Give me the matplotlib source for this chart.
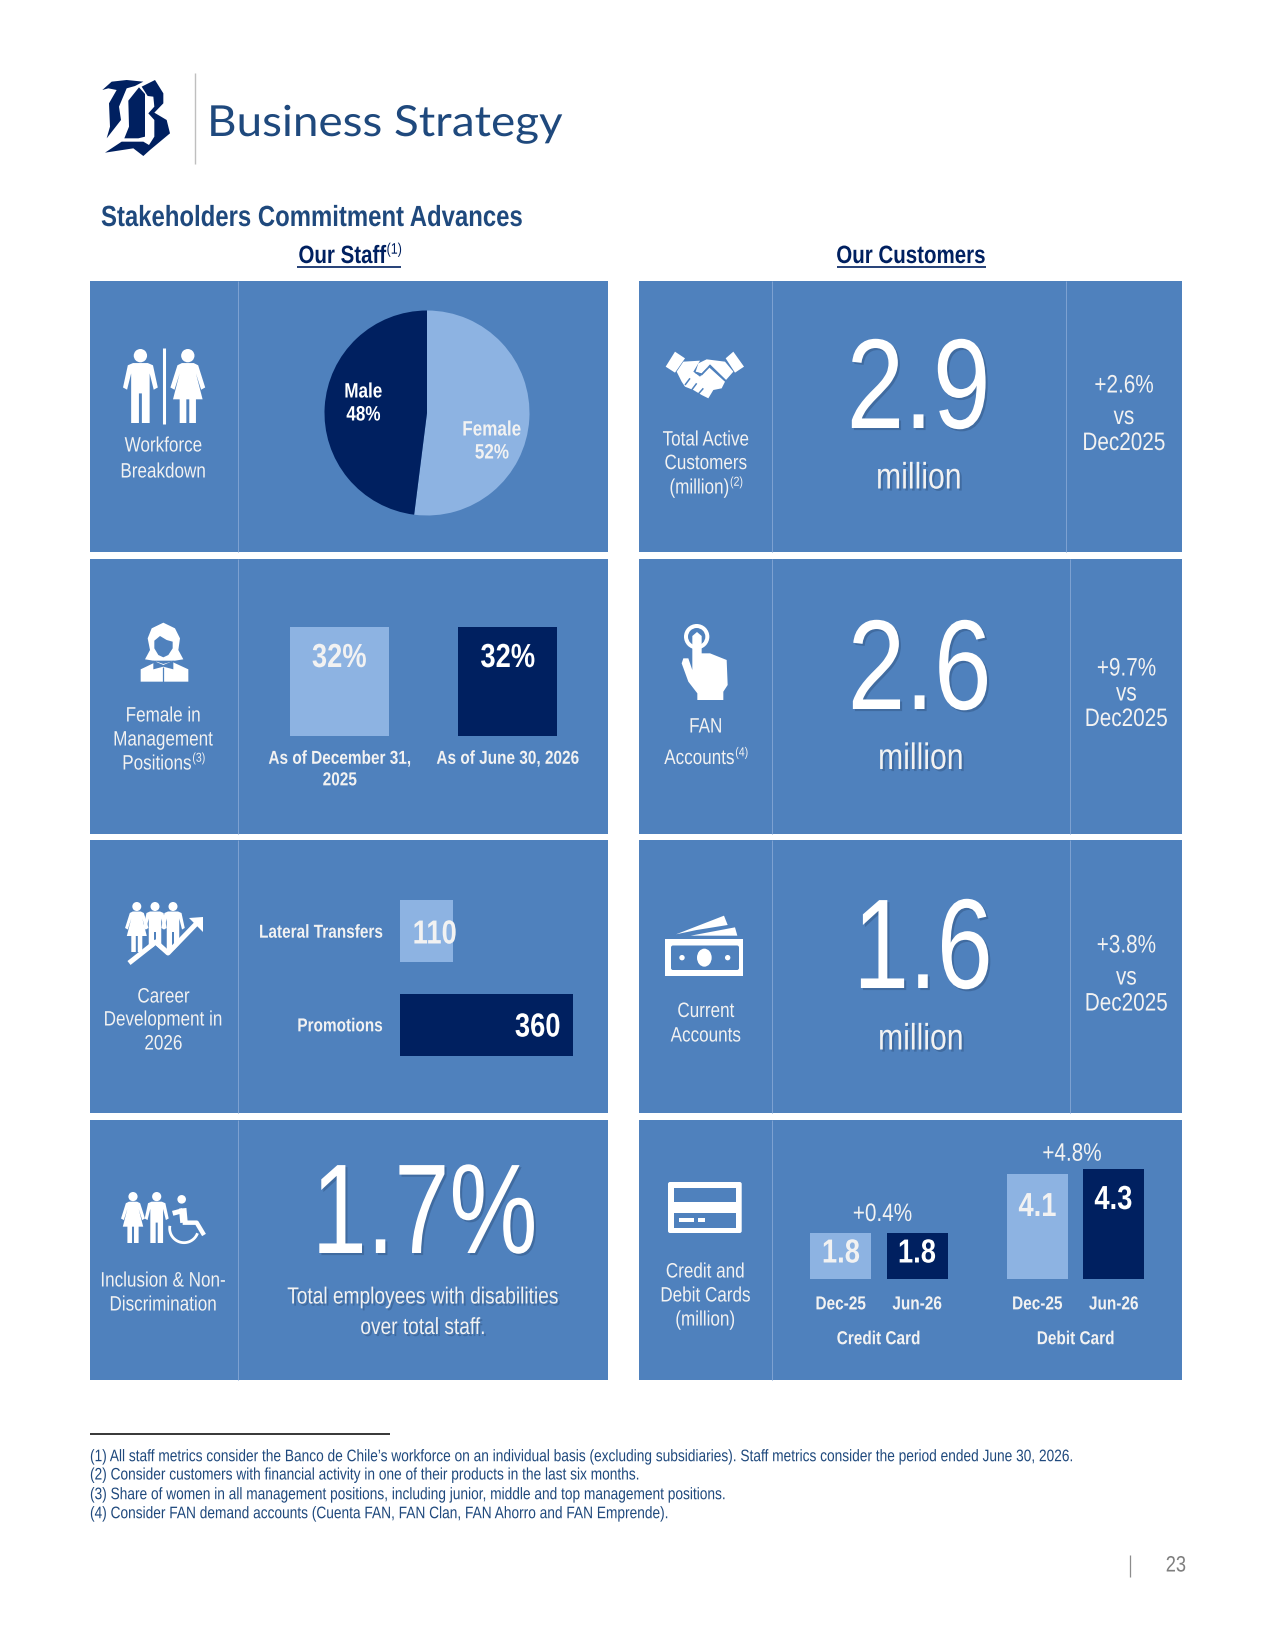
import numpy as np
import matplotlib
matplotlib.use('Agg')
import matplotlib.pyplot as plt
import matplotlib.patches as patches
import matplotlib.patheffects as pe
from matplotlib.transforms import Affine2D, Bbox

W, H = 1275, 1650

PANEL = '#4F81BD'
LIGHT = '#8DB3E2'
NAVY = '#002060'
EDGE = '#7FA3D2'
TITLE = '#1F497D'
SOFT = '#F2F2F2'
SANS = 'Liberation Sans'
NARROW_K = 0.82

# data read from the page
gender_labels = ['Female', 'Male']
gender_share = [52, 48]
mgmt_labels = ['As of December 31,\n2025', 'As of June 30, 2026']
mgmt_share = [32, 32]
career_labels = ['Lateral Transfers', 'Promotions']
career_counts = [110, 360]
card_periods = ['Dec-25', 'Jun-26', 'Dec-25', 'Jun-26']
card_values = [1.8, 1.8, 4.1, 4.3]
card_growth = ['+0.4%', '+4.8%']
card_groups = ['Credit Card', 'Debit Card']
customer_values = ['2.9', '2.6', '1.6']
customer_growth = ['+2.6%', '+9.7%', '+3.8%']
disability_share = '1.7%'
footnotes = [
    '(1) All staff metrics consider the Banco de Chile\u2019s workforce on an individual basis (excluding subsidiaries). Staff metrics consider the period ended June 30, 2026.',
    '(2) Consider customers with financial activity in one of their products in the last six months.',
    '(3) Share of women in all management positions, including junior, middle and top management positions.',
    '(4) Consider FAN demand accounts (Cuenta FAN, FAN Clan, FAN Ahorro and FAN Emprende).',
]

fig = plt.figure(figsize=(W / 100, H / 100), dpi=100, facecolor='white')


class Squeeze(pe.AbstractPathEffect):
    # no narrow font is installed, so the real text gets squeezed when it is drawn
    def __init__(self, k=NARROW_K, anchor='center', shadow=False):
        super().__init__()
        self.k = k
        self.anchor = anchor
        self.shadow = pe.SimplePatchShadow(offset=(1.5, -1.5), alpha=0.3, shadow_rgbFace='#1F3A5F') if shadow else None

    def draw_path(self, renderer, gc, tpath, affine, rgbFace):
        xs = tpath.vertices[:, 0]
        x0 = 0
        if len(xs):
            if self.anchor == 'center':
                x0 = (xs.min() + xs.max()) / 2
            elif self.anchor == 'right':
                x0 = xs.max()
        squeezed = Affine2D().translate(-x0, 0).scale(self.k, 1).translate(x0, 0) + affine
        if self.shadow:
            self.shadow.draw_path(renderer, gc, tpath, squeezed, rgbFace)
        renderer.draw_path(gc, tpath, squeezed, rgbFace)


def squeeze_text(t, k=NARROW_K, anchor='center', shadow=False):
    # the effect and the reported extent have to agree on the narrower width
    t.set_path_effects([Squeeze(k, anchor, shadow)])
    wide = t.get_window_extent

    def narrow(renderer=None, dpi=None):
        b = wide(renderer, dpi)
        if anchor == 'left':
            x0, x1 = b.x0, b.x0 + b.width * k
        elif anchor == 'right':
            x0, x1 = b.x1 - b.width * k, b.x1
        else:
            mid = (b.x0 + b.x1) / 2
            x0, x1 = mid - b.width * k / 2, mid + b.width * k / 2
        return Bbox([[x0, b.y0], [x1, b.y1]])

    t.get_window_extent = narrow
    return t


def full_axes(z):
    a = fig.add_axes([0, 0, 1, 1], zorder=z)
    a.set_xlim(0, W)
    a.set_ylim(H, 0)
    a.axis('off')
    a.patch.set_alpha(0)
    return a


def inset(x0, y0, x1, y1):
    a = fig.add_axes([x0 / W, 1 - y1 / H, (x1 - x0) / W, (y1 - y0) / H], zorder=1)
    a.patch.set_alpha(0)
    for s in a.spines.values():
        s.set_visible(False)
    return a


bg = full_axes(0)
top = full_axes(2)


def txt(x, y, s, size, color='white', weight='normal', ha='center', shadow=False, k=NARROW_K):
    t = top.text(x, y, s, fontsize=size, color=color, fontweight=weight, ha=ha, va='center', family=SANS)
    return squeeze_text(t, k, ha, shadow)


def sup_txt(cx, y, main, sup, size, color=SOFT, weight='normal', sup_size=None):
    # text with a small superscript after it, centred as one block
    sup_size = sup_size or size * 0.62
    r = fig.canvas.get_renderer()
    a = txt(0, y, main, size, color, weight, ha='left')
    b = txt(0, y - size * 0.35, sup, sup_size, color, 'normal', ha='left')
    w1 = a.get_window_extent(r).width
    w2 = b.get_window_extent(r).width
    a.set_x(cx - (w1 + w2) / 2)
    b.set_x(cx - (w1 + w2) / 2 + w1 + 0.5)
    return cx - (w1 + w2) / 2, cx + (w1 + w2) / 2


def squeeze_ticks(labels, anchor):
    for lab in labels:
        lab.set_path_effects([Squeeze(anchor=anchor)])


def poly(ax_, pts, color='white', ox=0, oy=0, k=1, z=3):
    pts = np.array(pts, dtype=float) / k + [ox, oy]
    ax_.add_patch(patches.Polygon(pts, closed=True, facecolor=color, edgecolor='none', zorder=z))


def line(ax_, pts, color='white', ox=0, oy=0, k=1, lw=1.0, z=4):
    pts = np.array(pts, dtype=float) / k + [ox, oy]
    ax_.plot(pts[:, 0], pts[:, 1], color=color, lw=lw, solid_capstyle='butt', zorder=z)


def disc(ax_, x, y, r, color='white', z=3):
    ax_.add_patch(patches.Circle((x, y), r, facecolor=color, edgecolor='none', zorder=z))


MAN = [(-.1, .19), (.1, .19), (.17, .22), (.235, .52), (.18, .55), (.125, .33), (.125, 1), (.02, 1), (.02, .6),
       (-.02, .6), (-.02, 1), (-.125, 1), (-.125, .33), (-.18, .55), (-.235, .52), (-.17, .22)]
WOMAN = [(-.08, .19), (.08, .19), (.14, .22), (.235, .52), (.18, .55), (.11, .33), (.2, .68), (.11, .68), (.11, 1),
         (.02, 1), (.02, .68), (-.02, .68), (-.02, 1), (-.11, 1), (-.11, .68), (-.2, .68), (-.11, .33), (-.18, .55),
         (-.235, .52), (-.14, .22)]


def person(cx, y0, h, shape):
    disc(bg, cx, y0 + .09 * h, .09 * h)
    pts = [(cx + px * h, y0 + py * h) for px, py in shape]
    poly(bg, pts)


# header
def draw_logo():
    o = (95, 70)
    k = 3
    poly(bg, [(22, 60), (50, 35), (95, 30), (145, 35), (120, 48), (95, 55), (72, 110), (78, 150), (35, 205), (45, 170),
              (42, 100), (65, 60), (40, 55)], NAVY, *o, k)
    poly(bg, [(88, 205), (102, 170), (100, 92), (132, 52), (150, 72), (150, 200), (130, 205)], NAVY, *o, k)
    poly(bg, [(140, 50), (180, 30), (205, 70), (205, 100), (178, 128), (215, 150), (225, 190), (165, 240), (145, 258),
              (115, 235), (30, 248), (80, 215), (145, 215), (162, 225), (178, 200), (178, 150), (160, 130), (178, 110),
              (175, 80), (158, 78)], NAVY, *o, k)


draw_logo()
line(bg, [(195, 73), (195, 164)], '#BFBFBF', lw=1.0)
title = top.text(207, 124, 'Business Strategy', fontsize=30.8, color=TITLE, family='Lato', ha='left', va='center')
squeeze_text(title, 1.07, 'left')
txt(101, 218, 'Stakeholders Commitment Advances', 21, TITLE, 'bold', ha='left')
left, right = sup_txt(350, 256, 'Our Staff', '(1)', 18, NAVY, 'bold', sup_size=11)
line(bg, [(297, 266.7), (401, 266.7)], NAVY, lw=1.2)
txt(911, 256, 'Our Customers', 18, NAVY, 'bold')
line(bg, [(836.5, 266.7), (985.5, 266.7)], NAVY, lw=1.2)

# panels
rows = [(281, 552), (559, 834), (840, 1113), (1120, 1380)]
right_seps = [1066, 1070, 1070, None]
for (y0, y1), sep in zip(rows, right_seps):
    bg.add_patch(patches.Rectangle((90, y0), 518, y1 - y0, facecolor=PANEL, edgecolor='none'))
    bg.add_patch(patches.Rectangle((639, y0), 543, y1 - y0, facecolor=PANEL, edgecolor='none'))
    line(bg, [(238, y0), (238, y1)], EDGE, lw=0.7)
    line(bg, [(772, y0), (772, y1)], EDGE, lw=0.7)
    if sep:
        line(bg, [(sep, y0), (sep, y1)], EDGE, lw=0.7)

# workforce pie
ax = inset(427 - 102.5, 413 - 102.5, 427 + 102.5, 413 + 102.5)
ax.pie(gender_share, colors=[LIGHT, NAVY], startangle=90, counterclock=False, radius=1)
ax.set_xlim(-1, 1)
ax.set_ylim(-1, 1)
txt(363.5, 392, gender_labels[1], 15, 'white', 'bold')
txt(363.5, 415, f'{gender_share[1]}%', 15, 'white', 'bold')
txt(492, 430, gender_labels[0], 15, SOFT, 'bold')
txt(492, 453, f'{gender_share[0]}%', 15, SOFT, 'bold')
person(140.4, 349, 74, MAN)
person(187.8, 349, 74, WOMAN)
line(bg, [(164, 348), (164, 424)], lw=2.2)
txt(163.5, 446, 'Workforce', 15, SOFT)
txt(163.5, 472, 'Breakdown', 15, SOFT)

# female in management bars
ax = inset(290, 626.5, 557.5, 735.5)
ax.bar([0, 1], mgmt_share, width=0.592, color=[LIGHT, NAVY])
ax.set_xlim(-0.296, 1.296)
ax.set_ylim(0, 32)
ax.set_yticks([])
ax.set_xticks([0, 1])
ax.set_xticklabels(mgmt_labels, fontsize=13.5, color=SOFT, fontweight='bold', family=SANS, linespacing=1.35)
squeeze_ticks(ax.get_xticklabels(), 'center')
ax.tick_params(axis='x', length=0, pad=11)
txt(339.5, 658.5, f'{mgmt_share[0]}%', 24, SOFT, 'bold')
txt(508, 658.5, f'{mgmt_share[1]}%', 24, 'white', 'bold')
o = (125, 610)
poly(bg, [(60, 148), (75, 120), (68, 85), (80, 55), (115, 38), (150, 55), (165, 85), (160, 120), (175, 148), (150, 152),
          (115, 152), (85, 152)], 'white', *o, 3)
poly(bg, [(88, 92), (105, 78), (125, 90), (143, 95), (143, 115), (130, 135), (115, 142), (100, 135), (88, 115)], PANEL, *o, 3, z=4)
poly(bg, [(47, 215), (47, 178), (95, 155), (115, 162), (140, 155), (190, 178), (190, 215)], 'white', *o, 3, z=4)
poly(bg, [(85, 152), (115, 165), (145, 152), (145, 178), (115, 170), (85, 178)], PANEL, *o, 3, z=5)
line(bg, [(115, 170), (115, 215)], PANEL, *o, 3, lw=0.9, z=5)
txt(163.5, 716, 'Female in', 15, SOFT)
txt(163.5, 740, 'Management', 15, SOFT)
sup_txt(163.5, 764, 'Positions', '(3)', 15, SOFT)

# career development bars
ax = inset(399.5, 900, 573, 1056)
ax.barh([0, 1], career_counts, height=0.667, color=[LIGHT, NAVY])
ax.set_xlim(0, 360)
ax.set_ylim(1.333, -0.333)
ax.set_xticks([])
ax.set_yticks([0, 1])
ax.set_yticklabels(career_labels, fontsize=13.5, color=SOFT, fontweight='bold', family=SANS)
squeeze_ticks(ax.get_yticklabels(), 'right')
ax.tick_params(axis='y', length=0, pad=12)
txt(457, 935, str(career_counts[0]), 24, SOFT, 'bold', ha='right')
txt(561, 1028, str(career_counts[1]), 24, 'white', 'bold', ha='right')
person(136.8, 902, 50, WOMAN)
person(155, 902, 50, MAN)
person(173, 902, 50, MAN)
poly(bg, [(146, 952), (155.7, 945), (168, 956), (197, 926), (210, 926), (210, 970), (146, 970)], PANEL, z=3.5)
line(bg, [(129, 963), (155.7, 942), (168, 953), (197, 923)], lw=3.6, z=5)
poly(bg, [(189, 918), (203, 917), (203, 932)], z=5)
txt(163.5, 997, 'Career', 15, SOFT)
txt(163.5, 1020, 'Development in', 15, SOFT)
txt(163.5, 1044, '2026', 15, SOFT)

# inclusion
txt(425, 1220, disability_share, 92, 'white', shadow=True, k=0.775)
txt(423.6, 1297, 'Total employees with disabilities', 16.8, SOFT, shadow=True)
txt(423.6, 1327.5, 'over total staff.', 16.8, SOFT, shadow=True)
person(133, 1192, 51, WOMAN)
person(156.7, 1192, 51, MAN)
o = (110, 1180)
disc(bg, 110 + 215 / 3, 1180 + 58 / 3, 4.3)
line(bg, [(188, 100), (218, 92)], 'white', *o, 3, lw=3.6)
line(bg, [(218, 85), (222, 128)], 'white', *o, 3, lw=5.4)
line(bg, [(218, 128), (260, 128), (282, 165)], 'white', *o, 3, lw=3.2)
t = np.radians(np.linspace(20, 190, 40))
line(bg, np.c_[222 + 43 * np.cos(t), 145 + 43 * np.sin(t)], 'white', *o, 3, lw=2.0)
txt(163.5, 1281, 'Inclusion & Non-', 15, SOFT)
txt(163.5, 1305, 'Discrimination', 15, SOFT)

# customers big numbers
big_x = [919, 920, 923.5]
big_y = [395, 676, 955]
big_k = [0.81, 0.81, 0.785]
mil_y = [479, 759.5, 1040]
mil_x = [919, 921, 921]
for i in range(3):
    txt(big_x[i], big_y[i], customer_values[i], 92, 'white', shadow=True, k=big_k[i])
    txt(mil_x[i], mil_y[i], 'million', 26.5, SOFT, shadow=True)
growth_x = [1124, 1126.4, 1126.4]
growth_y = [(385.5, 417, 443), (668.5, 693.5, 719), (945.5, 977.5, 1003.5)]
for i in range(3):
    for s, y in zip([customer_growth[i], 'vs', 'Dec2025'], growth_y[i]):
        txt(growth_x[i], y, s, 18.2, SOFT)

# handshake
o = (650, 330)
poly(bg, [(75, 65), (105, 85), (75, 128), (47, 110)], 'white', *o, 3)
poly(bg, [(250, 65), (282, 110), (255, 128), (227, 85)], 'white', *o, 3)
poly(bg, [(100, 95), (150, 92), (130, 125), (150, 140), (175, 110), (225, 155), (215, 175), (190, 180), (175, 205),
          (155, 195), (130, 180), (105, 170), (95, 155), (80, 125)], 'white', *o, 3)
poly(bg, [(145, 100), (170, 88), (225, 95), (250, 125), (228, 150), (180, 103), (155, 130), (137, 125)], 'white', *o, 3)
line(bg, [(137, 128), (155, 134), (180, 108), (226, 152)], PANEL, *o, 3, lw=1.1)
line(bg, [(120, 145), (105, 165)], PANEL, *o, 3, lw=1.1)
line(bg, [(140, 160), (125, 180)], PANEL, *o, 3, lw=1.1)
line(bg, [(160, 175), (145, 192)], PANEL, *o, 3, lw=1.1)
txt(706, 440, 'Total Active', 15, SOFT)
txt(706, 463.6, 'Customers', 15, SOFT)
sup_txt(706, 488, '(million)', '(2)', 15, SOFT)

# pointing hand
disc(bg, 660 + 110 / 3, 610 + 80 / 3, 38 / 3)
disc(bg, 660 + 110 / 3, 610 + 80 / 3, 26 / 3, PANEL, z=3.5)
o = (660, 610)
poly(bg, [(97, 78), (111, 66), (125, 78), (125, 130), (150, 130), (175, 140), (200, 150), (203, 225), (190, 245),
          (190, 270), (112, 270), (112, 250), (85, 215), (65, 160), (70, 145), (85, 145), (97, 180)], 'white', *o, 3, z=4)
txt(706, 727, 'FAN', 15, SOFT)
sup_txt(706, 758.5, 'Accounts', '(4)', 15, SOFT)

# banknotes
o = (650, 905)
poly(bg, [(78, 88), (222, 32), (233, 60), (140, 75)], 'white', *o, 3)
poly(bg, [(122, 92), (255, 67), (262, 92)], 'white', *o, 3)
bg.add_patch(patches.Rectangle((650 + 15, 905 + 34.3), 78.3, 36.7, facecolor='white', edgecolor='none', zorder=3))
bg.add_patch(patches.FancyBboxPatch((650 + 21, 905 + 40.5), 68, 24.5, boxstyle='round,pad=0,rounding_size=2',
                                    facecolor=PANEL, edgecolor='none', zorder=4))
bg.add_patch(patches.Ellipse((650 + 163 / 3, 905 + 158 / 3), 44 / 3, 54 / 3, facecolor='white', edgecolor='none', zorder=5))
disc(bg, 650 + 96 / 3, 905 + 158 / 3, 2.7, z=5)
disc(bg, 650 + 233 / 3, 905 + 158 / 3, 2.7, z=5)
txt(706, 1011.5, 'Current', 15, SOFT)
txt(706, 1036, 'Accounts', 15, SOFT)

# card icon
bg.add_patch(patches.FancyBboxPatch((668, 1182), 73.7, 51, boxstyle='round,pad=0,rounding_size=2',
                                    facecolor='white', edgecolor='none', zorder=3))
bg.add_patch(patches.Rectangle((673.6, 1187.7), 62.7, 14.6, facecolor=PANEL, edgecolor='none', zorder=4))
bg.add_patch(patches.Rectangle((673.6, 1213), 62.7, 15, facecolor=PANEL, edgecolor='none', zorder=4))
bg.add_patch(patches.Rectangle((679, 1218), 14.5, 4, facecolor='white', edgecolor='none', zorder=5))
bg.add_patch(patches.Rectangle((697.7, 1218), 7.3, 4, facecolor='white', edgecolor='none', zorder=5))
txt(705.5, 1272, 'Credit and', 15, SOFT)
txt(705.5, 1296, 'Debit Cards', 15, SOFT)
txt(705.5, 1320, '(million)', 15, SOFT)

# credit and debit card bars
ax = inset(810, 1169.3, 1144, 1279)
xpos = [0, 1, 2.57, 3.57]
ax.bar(xpos, card_values, width=0.8, color=[LIGHT, NAVY, LIGHT, NAVY])
ax.set_xlim(-0.4, 3.966)
ax.set_ylim(0, 4.3)
ax.set_yticks([])
ax.set_xticks(xpos)
ax.set_xticklabels(card_periods, fontsize=13.5, color=SOFT, fontweight='bold', family=SANS)
squeeze_ticks(ax.get_xticklabels(), 'center')
ax.tick_params(axis='x', length=0, pad=12.5)
txt(841, 1254, f'{card_values[0]}', 24, SOFT, 'bold')
txt(917, 1254, f'{card_values[1]}', 24, 'white', 'bold')
txt(1037.5, 1207.5, f'{card_values[2]}', 24, SOFT, 'bold')
txt(1113.5, 1200.5, f'{card_values[3]}', 24, 'white', 'bold')
txt(882.5, 1214, card_growth[0], 18.2, SOFT)
txt(1072, 1153.7, card_growth[1], 18.2, SOFT)
txt(878.5, 1339.7, card_groups[0], 13.5, SOFT, 'bold')
txt(1075.6, 1339.7, card_groups[1], 13.5, SOFT, 'bold')

# footnotes and page number
line(bg, [(90, 1434.3), (390, 1434.3)], 'black', lw=1.1)
for s, y in zip(footnotes, [1456.7, 1475, 1494.7, 1513.7]):
    txt(90, y, s, 12.04, TITLE, ha='left')
line(bg, [(1129.7, 1555), (1129.7, 1577)], '#8C8C8C', lw=0.9)
txt(1176, 1566, '23', 16, '#7F7F7F')

fig.savefig('out.png', dpi=100)
